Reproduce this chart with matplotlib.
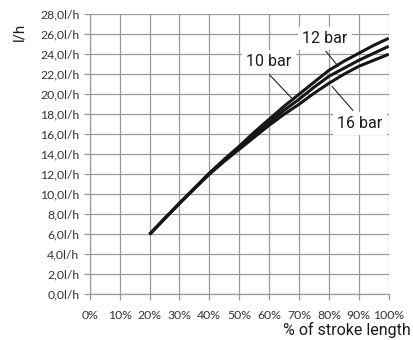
import matplotlib
matplotlib.use("Agg")
import matplotlib.pyplot as plt
from matplotlib.ticker import FuncFormatter

# stroke length (%) and flow (l/h)
stroke = [20, 30, 40, 45, 50, 55, 60, 65, 70, 75, 80, 85, 90, 95, 100]
flow_10bar = [6.0, 9.1, 12.1, 13.5, 14.8, 16.2, 17.5, 18.8, 20.0, 21.2, 22.4, 23.3, 24.1, 24.9, 25.6]
flow_12bar = [6.0, 9.1, 12.1, 13.4, 14.7, 16.0, 17.2, 18.4, 19.5, 20.7, 21.8, 22.6, 23.4, 24.1, 24.8]
flow_16bar = [6.0, 9.1, 12.0, 13.3, 14.5, 15.7, 16.9, 18.0, 19.0, 20.1, 21.1, 22.0, 22.8, 23.4, 24.0]

curves = [("10 bar", flow_10bar), ("12 bar", flow_12bar), ("16 bar", flow_16bar)]

# label text position and leader line (from, to) in data coordinates
labels = {
    "10 bar": ((60.0, 23.3), (60.3, 21.9), (67.6, 19.6)),
    "12 bar": ((78.7, 25.6), (79.0, 24.3), (83.1, 22.8)),
    "16 bar": ((90.4, 17.1), (88.0, 18.4), (81.0, 20.8)),
}

narrow = ['Roboto', 'DejaVu Sans']
tickfont = ['Lato', 'DejaVu Sans']

fig = plt.figure(figsize=(4.13, 3.40), dpi=100)
ax = fig.add_axes([0.2172, 0.1344, 0.724, 0.8236])

for name, vals in curves:
    ax.plot(stroke, vals, color='#161616', lw=2.2, solid_capstyle='butt', zorder=3)

for name, (txt, p0, p1) in labels.items():
    ax.plot([p0[0], p1[0]], [p0[1], p1[1]], color='#222222', lw=0.8, zorder=4)
    ax.text(txt[0], txt[1], name, ha='center', va='center', fontsize=11.5,
            family=narrow, color='#1a1a1a', zorder=5,
            bbox=dict(facecolor='white', edgecolor='none', pad=3))

ax.set_xlim(0, 100)
ax.set_ylim(0, 28)
ax.set_xticks(range(0, 101, 10))
ax.set_yticks(range(0, 29, 2))
ax.xaxis.set_major_formatter(FuncFormatter(lambda v, p: '%d%%' % v))
ax.yaxis.set_major_formatter(FuncFormatter(lambda v, p: ('%.1fl/h' % v).replace('.', ',')))

ax.grid(True, color='#9a9a9a', lw=0.9, zorder=0)
ax.set_axisbelow(True)
for s in ['top', 'right']:
    ax.spines[s].set_visible(False)
for s in ['left', 'bottom']:
    ax.spines[s].set_color('#9a9a9a')
    ax.spines[s].set_linewidth(0.9)

ax.tick_params(axis='both', colors='#9a9a9a', length=4, width=0.9, labelcolor='#333333', labelsize=8.8)
ax.tick_params(axis='x', pad=7)
for lab in ax.get_xticklabels() + ax.get_yticklabels():
    lab.set_family(tickfont)

fig.text(0.048, 0.905, 'l/h', rotation=90, ha='center', va='center',
         fontsize=11, family=narrow, color='#1a1a1a')
fig.text(0.995, 0.03, '% of stroke length', ha='right', va='center',
         fontsize=11.5, family=narrow, color='#1a1a1a')

fig.savefig('out.png', dpi=100)
